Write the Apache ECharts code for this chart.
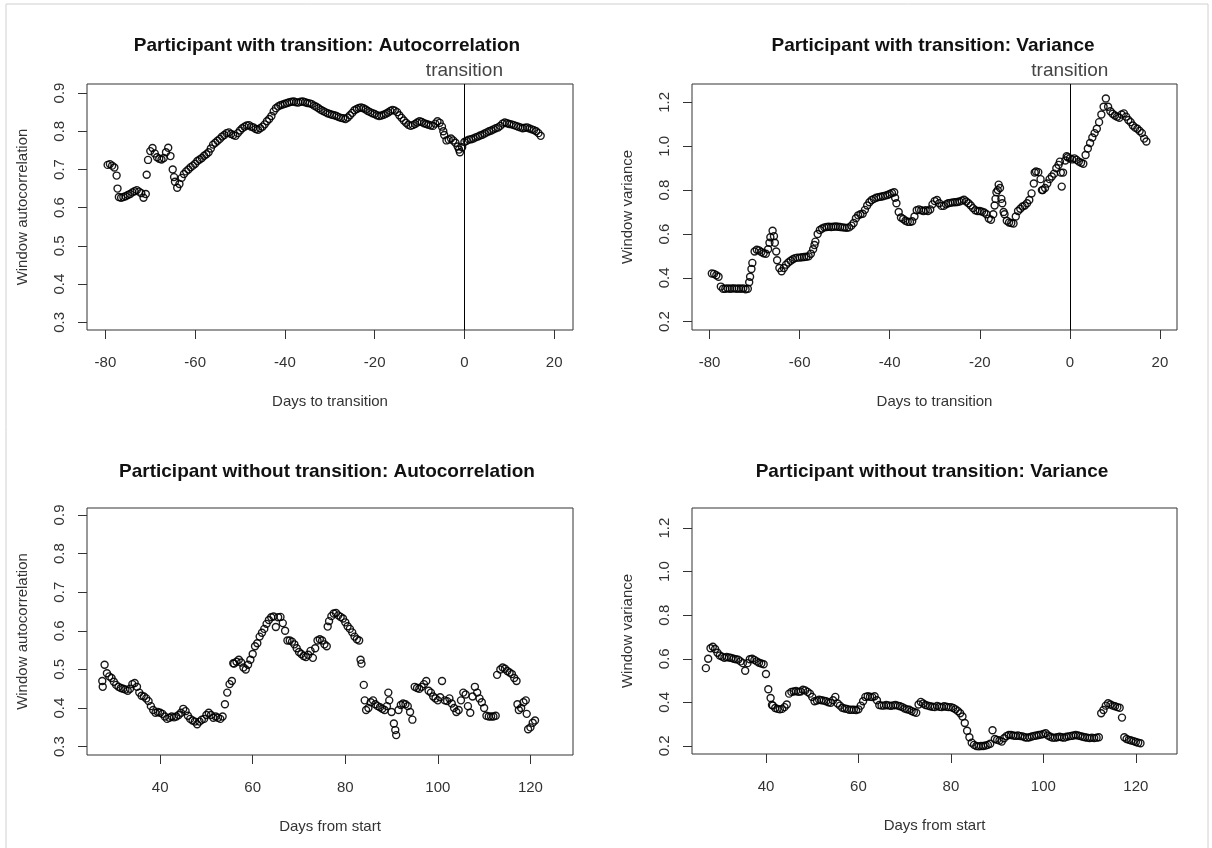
<!DOCTYPE html>
<html>
<head>
<meta charset="utf-8">
<script src="https://cdn.jsdelivr.net/npm/echarts@6/dist/echarts.min.js"></script>
<style>html,body{margin:0;padding:0;background:#fff}#c{width:1212px;height:848px}</style>
</head>
<body>
<div id="c"></div>
<script>
// ---- tick labels ----
const xTicksTransition = [-80, -60, -40, -20, 0, 20];
const xTicksStart = [40, 60, 80, 100, 120];
const yTicksAutocorr = [0.3, 0.4, 0.5, 0.6, 0.7, 0.8, 0.9];
const yTicksVariance = [0.2, 0.4, 0.6, 0.8, 1.0, 1.2];

// ---- participant with transition: autocorrelation [day, value] ----
const acWith = [
[-79.5,.712],[-79,.714],[-78.5,.71],[-78,.705],[-77.5,.684],[-77.3,.65],[-77,.628],[-76.5,.626],[-76,.628],[-75.5,.630],[-75,.633],[-74.5,.636],[-74,.640],[-73.5,.643],[-73,.646],[-72.5,.642],[-72,.638],[-71.5,.626],[-71,.636],[-70.8,.686],[-70.5,.725],[-70,.748],[-69.5,.756],[-69,.742],[-68.5,.732],[-68,.728],[-67.5,.726],[-67,.730],[-66.5,.745],[-66,.757],[-65.5,.735],[-65,.700],[-64.7,.68],[-64.5,.668],[-64,.652],[-63.5,.662],[-63,.678],[-62.5,.688],[-62,.695],[-61.5,.700],[-61,.706],[-60.5,.710],[-60,.715],[-59.5,.722],[-59,.726],[-58.5,.730],[-58,.736],[-57.5,.740],[-57,.745],[-56.5,.755],[-56,.765],[-55.5,.770],[-55,.775],[-54.5,.780],[-54,.786],[-53.5,.790],[-53,.795],[-52.5,.797],[-52,.793],[-51.5,.790],[-51,.788],[-50.5,.795],[-50,.802],[-49.5,.808],[-49,.812],[-48.5,.815],[-48,.816],[-47.5,.812],[-47,.810],[-46.5,.806],[-46,.804],[-45.5,.808],[-45,.812],[-44.5,.818],[-44,.826],[-43.5,.832],[-43,.840],[-42.5,.852],[-42,.860],[-41.5,.865],[-41,.868],[-40.5,.870],[-40,.872],[-39.5,.874],[-39,.876],[-38.5,.877],[-38,.878],[-37.5,.876],[-37,.875],[-36.5,.877],[-36,.878],[-35.5,.876],[-35,.874],[-34.5,.873],[-34,.871],[-33.5,.867],[-33,.864],[-32.5,.860],[-32,.856],[-31.5,.853],[-31,.850],[-30.5,.847],[-30,.845],[-29.5,.843],[-29,.842],[-28.5,.840],[-28,.837],[-27.5,.835],[-27,.834],[-26.5,.832],[-26,.836],[-25.5,.842],[-25,.848],[-24.5,.855],[-24,.858],[-23.5,.861],[-23,.862],[-22.5,.860],[-22,.857],[-21.5,.853],[-21,.850],[-20.5,.847],[-20,.845],[-19.5,.842],[-19,.840],[-18.5,.841],[-18,.843],[-17.5,.846],[-17,.849],[-16.5,.853],[-16,.856],[-15.5,.854],[-15,.850],[-14.5,.842],[-14,.835],[-13.5,.828],[-13,.822],[-12.5,.817],[-12,.814],[-11.5,.816],[-11,.819],[-10.5,.823],[-10,.826],[-9.5,.824],[-9,.821],[-8.5,.819],[-8,.817],[-7.5,.815],[-7,.814],[-6.5,.820],[-6,.826],[-5.5,.822],[-5,.812],[-4.7,.80],[-4.5,.790],[-4,.776],[-3.5,.778],[-3,.781],[-2.5,.776],[-2,.770],[-1.5,.760],[-1.2,.752],[-1,.745],[-0.5,.758],[0,.772],[0.5,.775],[1,.778],[1.5,.779],[2,.781],[2.5,.784],[3,.786],[3.5,.789],[4,.791],[4.5,.794],[5,.797],[5.5,.800],[6,.802],[6.5,.805],[7,.808],[7.5,.810],[8,.814],[8.5,.820],[9,.823],[9.5,.821],[10,.819],[10.5,.818],[11,.816],[11.5,.814],[12,.812],[12.5,.810],[13,.808],[13.5,.809],[14,.810],[14.5,.807],[15,.805],[15.5,.803],[16,.800],[16.5,.795],[17,.788]
];

// ---- participant with transition: variance [day, value] ----
const varWith = [
[-79.5,.420],[-79,.418],[-78.5,.412],[-78,.405],[-77.5,.36],[-77,.350],[-76.5,.350],[-76,.352],[-75.5,.350],[-75,.351],[-74.5,.352],[-74,.350],[-73.5,.351],[-73,.350],[-72.5,.352],[-72,.348],[-71.5,.350],[-71.2,.38],[-71,.405],[-70.7,.440],[-70.5,.468],[-70,.520],[-69.5,.528],[-69,.525],[-68.5,.518],[-68,.512],[-67.5,.510],[-67,.530],[-66.7,.560],[-66.5,.585],[-66,.615],[-65.7,.590],[-65.5,.560],[-65.2,.520],[-65,.480],[-64.5,.445],[-64,.430],[-63.5,.445],[-63,.460],[-62.5,.470],[-62,.478],[-61.5,.485],[-61,.490],[-60.5,.492],[-60,.492],[-59.5,.494],[-59,.495],[-58.5,.496],[-58,.498],[-57.5,.510],[-57,.530],[-56.7,.550],[-56.5,.565],[-56,.600],[-55.5,.618],[-55,.625],[-54.5,.630],[-54,.632],[-53.5,.633],[-53,.632],[-52.5,.633],[-52,.634],[-51.5,.633],[-51,.632],[-50.5,.630],[-50,.629],[-49.5,.628],[-49,.630],[-48.5,.638],[-48,.650],[-47.5,.672],[-47,.685],[-46.5,.690],[-46,.692],[-45.5,.710],[-45,.730],[-44.5,.745],[-44,.755],[-43.5,.760],[-43,.765],[-42.5,.768],[-42,.770],[-41.5,.772],[-41,.775],[-40.5,.778],[-40,.782],[-39.5,.787],[-39,.790],[-38.8,.765],[-38.5,.740],[-38,.700],[-37.5,.675],[-37,.668],[-36.5,.660],[-36,.656],[-35.5,.655],[-35,.658],[-34.5,.680],[-34,.708],[-33.5,.712],[-33,.708],[-32.5,.705],[-32,.708],[-31.5,.705],[-31,.712],[-30.5,.735],[-30,.750],[-29.5,.755],[-29,.740],[-28.5,.728],[-28,.728],[-27.5,.735],[-27,.740],[-26.5,.742],[-26,.744],[-25.5,.745],[-25,.746],[-24.5,.748],[-24,.752],[-23.5,.756],[-23,.748],[-22.5,.740],[-22,.730],[-21.5,.718],[-21,.708],[-20.5,.705],[-20,.705],[-19.5,.702],[-19,.698],[-18.5,.690],[-18,.670],[-17.5,.665],[-17,.690],[-16.7,.730],[-16.5,.760],[-16.3,.790],[-16,.800],[-15.8,.825],[-15.5,.810],[-15.2,.760],[-15,.740],[-14.7,.700],[-14.5,.690],[-14,.660],[-13.5,.652],[-13,.650],[-12.5,.648],[-12,.680],[-11.5,.705],[-11,.715],[-10.5,.725],[-10,.730],[-9.5,.740],[-9,.755],[-8.5,.785],[-8,.830],[-7.8,.880],[-7.5,.885],[-7,.882],[-6.5,.850],[-6.2,.800],[-6,.800],[-5.5,.810],[-5,.830],[-4.5,.850],[-4,.862],[-3.5,.875],[-3,.900],[-2.5,.915],[-2.2,.930],[-2,.880],[-1.8,.816],[-1.5,.880],[-1,.935],[-0.7,.955],[-0.5,.950],[0,.945],[0.5,.940],[1,.945],[1.5,.938],[2,.930],[2.5,.925],[3,.920],[3.5,.960],[4,.990],[4.5,1.015],[5,1.040],[5.5,1.060],[6,1.080],[6.5,1.110],[7,1.145],[7.5,1.180],[8,1.218],[8.5,1.180],[9,1.160],[9.5,1.148],[10,1.140],[10.5,1.135],[11,1.130],[11.5,1.145],[12,1.150],[12.5,1.135],[13,1.120],[13.5,1.110],[14,1.095],[14.5,1.085],[15,1.080],[15.5,1.070],[16,1.060],[16.5,1.035],[17,1.022]
];

// ---- participant without transition: autocorrelation [day, value] ----
const acWithout = [
[27.5,.470],[27.6,.455],[28,.512],[28.5,.490],[29,.482],[29.5,.478],[30,.468],[30.5,.460],[31,.455],[31.5,.452],[32,.450],[32.5,.448],[33,.445],[33.5,.450],[34,.462],[34.5,.465],[35,.455],[35.5,.440],[36,.432],[36.5,.430],[37,.425],[37.5,.418],[38,.405],[38.5,.395],[39,.388],[39.5,.390],[40,.388],[40.5,.385],[41,.378],[41.5,.372],[42,.375],[42.5,.378],[43,.376],[43.5,.378],[44,.382],[44.5,.388],[45,.398],[45.5,.392],[46,.380],[46.5,.372],[47,.368],[47.5,.365],[48,.358],[48.5,.365],[49,.370],[49.5,.372],[50,.382],[50.5,.388],[51,.382],[51.5,.375],[52,.378],[52.5,.375],[53,.372],[53.5,.378],[54,.410],[54.5,.440],[55,.462],[55.5,.470],[55.8,.516],[56,.515],[56.5,.520],[57,.525],[57.5,.518],[58,.505],[58.5,.500],[59,.512],[59.5,.525],[60,.540],[60.5,.560],[61,.568],[61.5,.585],[62,.595],[62.5,.605],[63,.618],[63.5,.628],[64,.635],[64.5,.637],[65,.610],[65.5,.635],[66,.636],[66.5,.620],[67,.600],[67.5,.575],[68,.575],[68.5,.572],[69,.565],[69.5,.555],[70,.545],[70.5,.540],[71,.535],[71.5,.532],[72,.538],[72.5,.548],[73,.530],[73.5,.555],[74,.575],[74.5,.578],[75,.575],[75.5,.565],[76,.560],[76.2,.611],[76.5,.625],[77,.638],[77.5,.645],[78,.646],[78.5,.640],[79,.636],[79.5,.632],[80,.622],[80.5,.612],[81,.605],[81.5,.596],[82,.585],[82.5,.578],[83,.575],[83.3,.525],[83.5,.515],[84,.460],[84.2,.420],[84.5,.395],[85,.400],[85.5,.415],[86,.420],[86.5,.410],[87,.405],[87.5,.402],[88,.398],[88.5,.395],[89,.405],[89.3,.440],[89.5,.420],[90,.390],[90.5,.360],[90.8,.343],[91,.330],[91.5,.395],[92,.408],[92.5,.412],[93,.410],[93.5,.405],[94,.390],[94.5,.370],[95,.455],[95.5,.452],[96,.450],[96.5,.455],[97,.462],[97.5,.470],[98,.445],[98.5,.440],[99,.430],[99.5,.425],[100,.420],[100.5,.428],[100.9,.470],[101.5,.420],[102,.418],[102.5,.425],[103,.412],[103.5,.400],[104,.390],[104.5,.395],[105,.420],[105.5,.440],[106,.435],[106.5,.405],[107,.388],[107.5,.430],[108,.455],[108.5,.440],[109,.425],[109.5,.415],[110,.400],[110.5,.380],[111,.378],[111.5,.378],[112,.378],[112.5,.380],[112.8,.486],[113.5,.500],[114,.505],[114.5,.502],[115,.496],[115.5,.492],[116,.488],[116.5,.478],[117,.470],[117.2,.410],[117.5,.395],[118,.400],[118.5,.415],[119,.420],[119.2,.385],[119.5,.345],[120,.350],[120.5,.362],[121,.368]
];

// ---- participant without transition: variance [day, value] ----
const varWithout = [
[27,.557],[27.5,.600],[28,.648],[28.5,.655],[29,.645],[29.5,.628],[30,.615],[30.5,.610],[31,.605],[31.5,.608],[32,.606],[32.5,.604],[33,.600],[33.5,.598],[34,.596],[34.5,.588],[35,.580],[35.5,.545],[36,.580],[36.5,.598],[37,.600],[37.5,.595],[38,.588],[38.5,.582],[39,.578],[39.5,.575],[40,.530],[40.5,.460],[41,.420],[41.3,.388],[41.5,.385],[42,.374],[42.5,.370],[43,.368],[43.5,.370],[44,.378],[44.5,.390],[45,.440],[45.5,.448],[46,.450],[46.5,.452],[47,.448],[47.5,.450],[48,.458],[48.5,.455],[49,.448],[49.5,.440],[50,.425],[50.5,.405],[51,.408],[51.5,.412],[52,.410],[52.5,.408],[53,.405],[53.5,.400],[54,.398],[54.5,.410],[55,.425],[55.5,.395],[56,.385],[56.5,.375],[57,.372],[57.5,.370],[58,.366],[58.5,.366],[59,.366],[59.5,.365],[60,.368],[60.5,.385],[61,.405],[61.5,.425],[62,.428],[62.5,.426],[63,.424],[63.5,.428],[64,.410],[64.5,.388],[65,.385],[65.5,.385],[66,.388],[66.5,.386],[67,.384],[67.5,.386],[68,.388],[68.5,.385],[69,.382],[69.5,.378],[70,.372],[70.5,.368],[71,.366],[71.5,.360],[72,.356],[72.5,.352],[73,.390],[73.5,.402],[74,.395],[74.5,.388],[75,.385],[75.5,.382],[76,.380],[76.5,.378],[77,.384],[77.5,.380],[78,.378],[78.5,.382],[79,.380],[79.5,.378],[80,.378],[80.5,.374],[81,.368],[81.5,.360],[82,.350],[82.5,.335],[83,.305],[83.5,.270],[84,.240],[84.5,.215],[85,.205],[85.5,.200],[86,.198],[86.5,.200],[87,.200],[87.5,.202],[88,.205],[88.5,.210],[89,.272],[89.5,.232],[90,.228],[90.5,.225],[91,.220],[91.5,.235],[92,.245],[92.5,.250],[93,.250],[93.5,.248],[94,.246],[94.5,.248],[95,.245],[95.5,.244],[96,.240],[96.5,.238],[97,.240],[97.5,.243],[98,.246],[98.5,.248],[99,.250],[99.5,.252],[100,.255],[100.5,.258],[101,.248],[101.5,.242],[102,.238],[102.5,.238],[103,.240],[103.5,.242],[104,.240],[104.5,.238],[105,.242],[105.5,.244],[106,.246],[106.5,.248],[107,.250],[107.5,.248],[108,.245],[108.5,.242],[109,.240],[109.5,.238],[110,.236],[110.5,.238],[111,.236],[111.5,.238],[112,.240],[112.5,.350],[113,.365],[113.5,.385],[114,.396],[114.5,.390],[115,.385],[115.5,.382],[116,.378],[116.5,.375],[117,.330],[117.5,.240],[118,.232],[118.5,.228],[119,.225],[119.5,.222],[120,.218],[120.5,.215],[121,.212]
];

const FONT = '"Liberation Sans", Arial, sans-serif';
const AXIS_COLOR = '#333';
const TEXT_COLOR = '#333';

function xAxis(gi, min, max, ticks, name) {
  return {
    type: 'value', gridIndex: gi, min: min, max: max,
    name: name, nameLocation: 'middle', nameGap: 64,
    nameTextStyle: { fontFamily: FONT, fontSize: 15, color: TEXT_COLOR },
    axisLine: { show: false, onZero: false },
    axisTick: { show: true, length: 9, customValues: ticks, lineStyle: { color: AXIS_COLOR } },
    axisLabel: { customValues: ticks, margin: 25, fontFamily: FONT, fontSize: 15, color: TEXT_COLOR },
    splitLine: { show: false }
  };
}
function yAxis(gi, min, max, ticks, name) {
  return {
    type: 'value', gridIndex: gi, min: min, max: max,
    name: name, nameLocation: 'middle', nameGap: 57,
    nameTextStyle: { fontFamily: FONT, fontSize: 15, color: TEXT_COLOR },
    axisLine: { show: false, onZero: false },
    axisTick: { show: true, length: 9, customValues: ticks, lineStyle: { color: AXIS_COLOR } },
    axisLabel: { customValues: ticks, rotate: 90, margin: 20, fontFamily: FONT, fontSize: 15, color: TEXT_COLOR,
      formatter: v => Number(v).toFixed(1) },
    splitLine: { show: false }
  };
}
function scatter(gi, data, withLine) {
  const s = {
    type: 'scatter', xAxisIndex: gi, yAxisIndex: gi, data: data,
    symbol: 'circle', symbolSize: 7,
    itemStyle: { color: 'rgba(0,0,0,0)', borderColor: '#000', borderWidth: 1.4, opacity: 0.9 },
    silent: true, animation: false
  };
  if (withLine) {
    s.markLine = {
      silent: true, symbol: ['none', 'none'], animation: false,
      lineStyle: { color: '#000', width: 1, type: 'solid' },
      label: { show: true, position: 'end', formatter: 'transition', fontFamily: FONT, fontSize: 19, color: '#444', distance: 4 },
      data: [{ xAxis: 0 }]
    };
  }
  return s;
}
function title(text, x, y) {
  return { text: text, left: x, top: y, textAlign: 'center',
    textStyle: { fontFamily: FONT, fontSize: 19, fontWeight: 'bold', color: '#111' } };
}

const chart = echarts.init(document.getElementById('c'), null, { renderer: 'canvas' });
const gridStyle = { show: true, borderColor: '#333', borderWidth: 1, backgroundColor: 'transparent' };
chart.setOption({
  backgroundColor: '#fff',
  animation: false,
  title: [
    title('Participant with transition: Autocorrelation', 322, 31),
    title('Participant with transition: Variance', 928, 31),
    title('Participant without transition: Autocorrelation', 322, 457),
    title('Participant without transition: Variance', 927, 457)
  ],
  graphic: [{ type: 'rect', shape: { x: 6, y: 4, width: 1202, height: 900 }, style: { fill: 'none', stroke: '#d0d0d0', lineWidth: 1 }, silent: true, z: -1 }],
  grid: [
    Object.assign({ left: 87, top: 84, width: 486, height: 246 }, gridStyle),
    Object.assign({ left: 692, top: 84, width: 485, height: 246 }, gridStyle),
    Object.assign({ left: 87, top: 508, width: 486, height: 247 }, gridStyle),
    Object.assign({ left: 692, top: 508, width: 485, height: 246 }, gridStyle)
  ],
  xAxis: [
    xAxis(0, -84.1, 24.2, xTicksTransition, 'Days to transition'),
    xAxis(1, -83.9, 23.8, xTicksTransition, 'Days to transition'),
    xAxis(2, 24.2, 129.2, xTicksStart, 'Days from start'),
    xAxis(3, 24.0, 128.9, xTicksStart, 'Days from start')
  ],
  yAxis: [
    yAxis(0, 0.280, 0.9236, yTicksAutocorr, 'Window autocorrelation'),
    yAxis(1, 0.162, 1.284, yTicksVariance, 'Window variance'),
    yAxis(2, 0.2785, 0.918, yTicksAutocorr, 'Window autocorrelation'),
    yAxis(3, 0.163, 1.292, yTicksVariance, 'Window variance')
  ],
  series: [
    scatter(0, acWith, true),
    scatter(1, varWith, true),
    scatter(2, acWithout, false),
    scatter(3, varWithout, false)
  ]
});
</script>
</body>
</html>
